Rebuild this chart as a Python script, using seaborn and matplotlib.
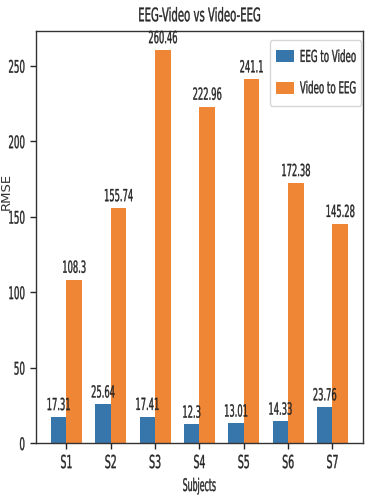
import numpy as np
import pandas as pd
import matplotlib
matplotlib.use("Agg")
import matplotlib.pyplot as plt
from matplotlib.patheffects import AbstractPathEffect
from matplotlib.transforms import Affine2D
import seaborn as sns

subjects = ["S1", "S2", "S3", "S4", "S5", "S6", "S7"]
eeg_to_video = [17.31, 25.64, 17.41, 12.3, 13.01, 14.33, 23.76]
video_to_eeg = [108.3, 155.74, 260.46, 222.96, 241.1, 172.38, 145.28]
series_names = ["EEG to Video", "Video to EEG"]


class SqueezeX(AbstractPathEffect):
    # narrow the drawing horizontally around a fixed x (display pixels),
    # optionally with a thin stroke so the letters keep some weight
    def __init__(self, x0, sx, lw=None):
        super().__init__()
        self.x0, self.sx, self.lw = x0, sx, lw

    def draw_path(self, renderer, gc, tpath, affine, rgbFace=None):
        sq = Affine2D().translate(-self.x0, 0).scale(self.sx, 1).translate(self.x0, 0)
        gc0 = renderer.new_gc()
        gc0.copy_properties(gc)
        if self.lw and rgbFace is not None:
            gc0.set_linewidth(self.lw)
            gc0.set_foreground(rgbFace)
        renderer.draw_path(gc0, tpath, affine + sq, rgbFace)
        gc0.restore()


def squeeze(artist, renderer, sx, where="center", x0=None, lw=0.25):
    if x0 is None:
        bb = artist.get_window_extent(renderer)
        x0 = {"left": bb.x0, "center": (bb.x0 + bb.x1) / 2, "right": bb.x1}[where]
    artist.set_path_effects([SqueezeX(x0, sx, lw)])


sns.set_style("ticks")
plt.rcParams["font.family"] = ["DejaVu Sans"]

df = pd.DataFrame({
    "Subject": subjects * 2,
    "RMSE": eeg_to_video + video_to_eeg,
    "Series": [series_names[0]] * len(subjects) + [series_names[1]] * len(subjects),
})

fig = plt.figure(figsize=(3.66, 5.0), dpi=100)
ax = fig.add_axes([0.0984, 0.114, 0.893, 0.824])

sns.barplot(data=df, x="Subject", y="RMSE", hue="Series", ax=ax,
            palette=["#3776ab", "#ef8636"], saturation=1, width=0.7,
            errorbar=None, linewidth=0)

bar_texts = []
for cont in ax.containers:
    bar_texts += ax.bar_label(cont, fmt="%g", fontsize=12, padding=2, color="#262626")

ax.set_xlim(-0.685, 6.685)
ax.set_ylim(0, 273)
ax.set_yticks([0, 50, 100, 150, 200, 250])
ax.tick_params(axis="both", colors="#262626", length=4.5, width=1)
ax.tick_params(axis="x", labelsize=13)
ax.tick_params(axis="y", labelsize=12.5)
for s in ax.spines.values():
    s.set_color("#333333")
    s.set_linewidth(1)

ax.set_title("EEG-Video vs Video-EEG", fontsize=13.5, pad=7, color="#262626")
ax.set_xlabel("Subjects", fontsize=12.5, labelpad=3.5, color="#262626")
ax.set_ylabel("RMSE", fontsize=9.5, color="#333333")
ax.yaxis.set_label_coords(-0.07, 0.61)

leg = ax.legend(loc="upper right", bbox_to_anchor=(0.995, 0.978), borderaxespad=0,
                fontsize=11.8, title=None, frameon=True, handlelength=2.1,
                handleheight=0.75, handletextpad=0.7, borderpad=0.6,
                labelspacing=1.0)

# the reference uses tall, narrow lettering: squeeze texts sideways
fig.canvas.draw()
r = fig.canvas.get_renderer()
squeeze(ax.title, r, 0.54)
squeeze(ax.xaxis.label, r, 0.45)
for t in ax.get_xticklabels():
    squeeze(t, r, 0.52)
for t in ax.get_yticklabels():
    squeeze(t, r, 0.5, "right")
for t in bar_texts:
    squeeze(t, r, 0.5)
lx = leg.get_window_extent(r).x1
for a in [leg.get_frame()] + list(leg.legend_handles):
    squeeze(a, r, 0.53, x0=lx, lw=None)
for t in leg.get_texts():
    squeeze(t, r, 0.53, x0=lx)

fig.savefig("out.png", dpi=100)
